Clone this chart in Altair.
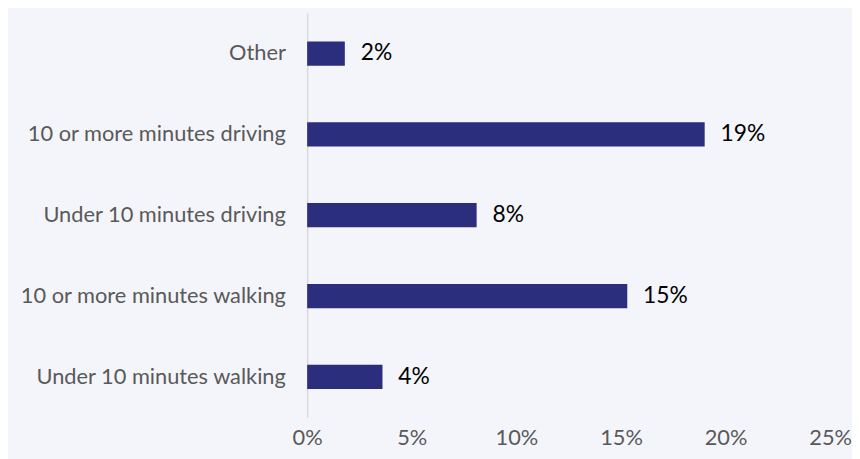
import altair as alt
import pandas as pd

categories = [
    "Other",
    "10 or more minutes driving",
    "Under 10 minutes driving",
    "10 or more minutes walking",
    "Under 10 minutes walking",
]
values = [1.8, 19.0, 8.1, 15.3, 3.6]
labels = ["2%", "19%", "8%", "15%", "4%"]
x_ticks = [0, 5, 10, 15, 20, 25]

df = pd.DataFrame({"cat": categories, "val": values, "lab": labels})

FONT = "Lato"

y_enc = alt.Y(
    "cat:N",
    sort=categories,
    title=None,
    scale=alt.Scale(paddingInner=0.7, paddingOuter=0.35),
    axis=alt.Axis(
        ticks=False,
        domain=True,
        domainColor="#d9d9d9",
        domainWidth=1.5,
        labelFont=FONT,
        labelFontSize=22,
        labelColor="#595959",
        labelPadding=22,
        labelLimit=400,
    ),
)
x_enc = alt.X(
    "val:Q",
    title=None,
    scale=alt.Scale(domain=[0, 25], nice=False),
    axis=alt.Axis(
        values=x_ticks,
        labelExpr="datum.value + '%'",
        grid=False,
        ticks=False,
        domain=False,
        labelFont=FONT,
        labelFontSize=22,
        labelColor="#595959",
        labelPadding=11,
        labelFlush=False,
    ),
)

bars = alt.Chart(df).mark_bar(color="#2a2e7c").encode(x=x_enc, y=y_enc)
text = alt.Chart(df).mark_text(
    align="left", baseline="middle", dx=16, font=FONT, fontSize=23, color="#000000"
).encode(x="val:Q", y=alt.Y("cat:N", sort=categories), text="lab:N")

chart = (
    alt.layer(bars, text)
    .properties(
        width=528,
        height=408,
        background="#f4f5fa",
        padding={"left": 302, "top": 3, "right": 22, "bottom": 40},
        autosize=alt.AutoSizeParams(type="none"),
    )
    .configure_view(stroke=None)
)

chart.save("out.html", embed_options={"renderer": "svg", "actions": False})
